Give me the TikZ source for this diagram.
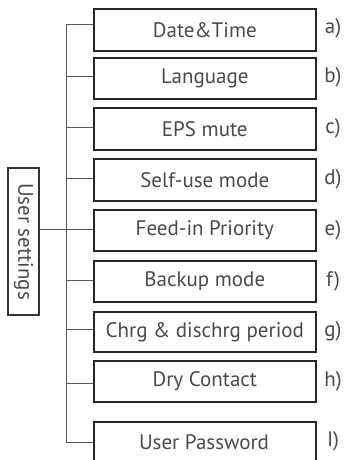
\documentclass[tikz,border=0pt]{standalone}
\usepackage{fontspec}
\setmainfont{PT Sans}
\definecolor{txt}{HTML}{4A4A4A}
\definecolor{ln}{HTML}{555555}
\begin{document}
\begin{tikzpicture}[x=1pt,y=-1pt,
  menubox/.style={draw=black!85,line width=1.6pt,minimum width=222pt,anchor=west,inner sep=0pt,text=txt,font=\fontsize{21}{24}\selectfont},
  lbl/.style={text=txt,font=\fontsize{21}{24}\selectfont,inner sep=0pt},
  tree/.style={draw=ln,line width=0.9pt}]
\useasboundingbox (0,0) rectangle (345,460);
% boxes
\node[menubox,minimum height=42pt] (a) at (93,30) {Date\&Time};
\node[menubox,minimum height=41pt] (b) at (93,78.5) {Language};
\node[menubox,minimum height=42pt] (c) at (93,129) {EPS mute};
\node[menubox,minimum height=42pt] (d) at (93,180) {Self-use mode};
\node[menubox,minimum height=41pt] (e) at (93,230.5) {Feed-in Priority};
\node[menubox,minimum height=41pt] (f) at (93,281.5) {Backup mode};
\node[menubox,minimum height=40pt] (g) at (93,332) {Chrg \& dischrg period};
\node[menubox,minimum height=41pt] (h) at (93,381.5) {Dry Contact};
\node[menubox,minimum height=44pt,anchor=north west] (i) at (93,421) {};
\node[text=txt,font=\fontsize{21}{24}\selectfont,inner sep=0pt] (itext) at (204,442) {User Password};
% labels
\node[lbl] (la) at (333,28) {a)};
\node[lbl] (lb) at (333,77) {b)};
\node[lbl] (lc) at (333,128) {c)};
\node[lbl] (ld) at (333,179) {d)};
\node[lbl] (le) at (333,230) {e)};
\node[lbl] (lf) at (333,281) {f)};
\node[lbl] (lg) at (333,331) {g)};
\node[lbl] (lh) at (333,381) {h)};
\node[lbl] (li) at (333,441) {I)};
% user settings
\node[draw=black!80,line width=1.1pt,minimum width=147pt,minimum height=31pt,inner sep=0pt,rotate=-90,text=txt,font=\fontsize{21}{24}\selectfont] (us) at (23.5,241.5) {User settings};
% trunk
\coordinate (ta) at (66,24);
\coordinate (tb) at (66,76);
\coordinate (tc) at (66,127);
\coordinate (td) at (66,178);
\coordinate (te) at (66,229);
\coordinate (tf) at (66,280);
\coordinate (tg) at (66,329);
\coordinate (th) at (66,383);
\coordinate (ti) at (66,442);
\draw[tree] (ta) -- (ti);
\foreach \n in {a,b,c,d,e,f,g,h,i} {\draw[tree] (t\n) -- (t\n -| \n.west);}
\draw[tree] (us.north |- te) -- (te);
\end{tikzpicture}
\end{document}
